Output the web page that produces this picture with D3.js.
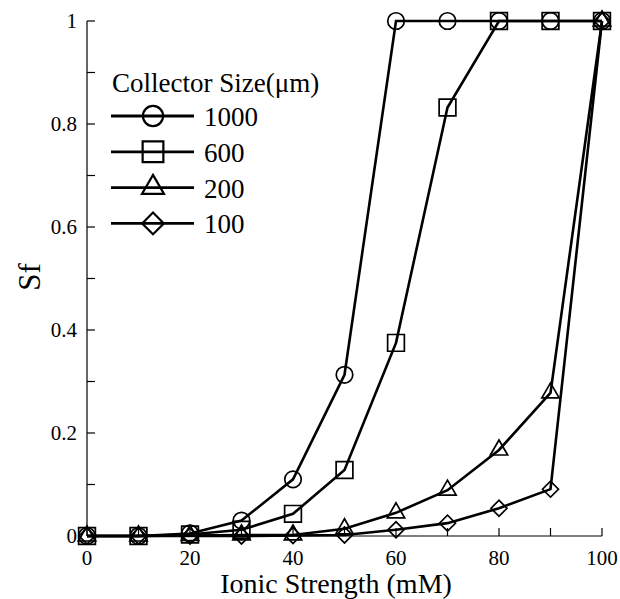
<!DOCTYPE html>
<html>
<head>
<meta charset="utf-8">
<script src="https://cdn.jsdelivr.net/npm/d3@7"></script>
</head>
<body style="margin:0">
<div id="chart"></div>
<script>
// Ionic strength (mM)
const ionic = [0, 10, 20, 30, 40, 50, 60, 70, 80, 90, 100]

// Sf per collector size
const s1000 = [0, 0, 0.005, 0.03, 0.11, 0.313, 1, 1, 1, 1, 1]
const s600 = [0, 0, 0.003, 0.012, 0.043, 0.128, 0.375, 0.832, 1, 1, 1]
const s200 = [0, 0, 0.001, 0.002, 0.002, 0.014, 0.045, 0.089, 0.167, 0.278, 1]
const s100 = [0, 0, 0, 0, 0.001, 0.002, 0.012, 0.025, 0.054, 0.091, 1]

const seriesNames = ["1000", "600", "200", "100"]
const xTicks = [0, 10, 20, 30, 40, 50, 60, 70, 80, 90, 100]
const xLabels = [0, 20, 40, 60, 80, 100]
const yTicks = [0, 0.1, 0.2, 0.3, 0.4, 0.5, 0.6, 0.7, 0.8, 0.9, 1]
const yLabels = [0, 0.2, 0.4, 0.6, 0.8, 1]

const serif = "Liberation Serif"

// diamond = square turned by 45 degrees
const series = [
  { name: seriesNames[0], values: s1000, symbol: d3.symbolCircle, size: 215, lsize: 320, rot: 0 },
  { name: seriesNames[1], values: s600, symbol: d3.symbolSquare, size: 280, lsize: 430, rot: 0 },
  { name: seriesNames[2], values: s200, symbol: d3.symbolTriangle, size: 130, lsize: 210, rot: 0 },
  { name: seriesNames[3], values: s100, symbol: d3.symbolSquare, size: 128, lsize: 235, rot: 45 },
]

const W = 620, H = 599
const x = d3.scaleLinear().domain([0, 100]).range([87, 602])
const y = d3.scaleLinear().domain([0, 1]).range([536, 21])

const svg = d3.select("#chart").append("svg")
  .attr("width", W).attr("height", H)
  .attr("font-family", serif)

// axes
const ax = svg.append("g").attr("stroke", "#000").attr("stroke-width", 1.2)
ax.append("line").attr("x1", x(0)).attr("x2", x(100)).attr("y1", y(0)).attr("y2", y(0))
ax.append("line").attr("x1", x(0)).attr("x2", x(0)).attr("y1", y(0)).attr("y2", y(1))
ax.selectAll(".xt").data(xTicks).enter().append("line")
  .attr("x1", d => x(d)).attr("x2", d => x(d))
  .attr("y1", y(0)).attr("y2", y(0) - 8)
ax.selectAll(".yt").data(yTicks).enter().append("line")
  .attr("x1", x(0)).attr("x2", x(0) + 8)
  .attr("y1", d => y(d)).attr("y2", d => y(d))

svg.selectAll(".xl").data(xLabels).enter().append("text")
  .attr("x", d => x(d)).attr("y", y(0) + 29)
  .attr("text-anchor", "middle").attr("font-size", 21)
  .attr("font-family", serif)
  .text(d => d)
svg.selectAll(".yl").data(yLabels).enter().append("text")
  .attr("x", x(0) - 10).attr("y", d => y(d) + 7)
  .attr("text-anchor", "end").attr("font-size", 21)
  .attr("font-family", serif)
  .text(d => d)

svg.append("text").attr("x", 336).attr("y", 593)
  .attr("text-anchor", "middle").attr("font-size", 28)
  .attr("font-family", serif)
  .text("Ionic Strength (mM)")
svg.append("text")
  .attr("transform", "translate(40,277) rotate(-90)")
  .attr("text-anchor", "middle").attr("font-size", 31)
  .attr("font-family", serif)
  .text("Sf")

// series
const line = d3.line().x((d, i) => x(ionic[i])).y(d => y(d))
series.forEach(s => {
  const g = svg.append("g")
  g.append("path").attr("d", line(s.values))
    .attr("fill", "none").attr("stroke", "#000").attr("stroke-width", 2.6)
  g.selectAll("path.m").data(s.values).enter().append("path")
    .attr("class", "m")
    .attr("transform", (d, i) => `translate(${x(ionic[i])},${y(d)}) rotate(${s.rot})`)
    .attr("d", d3.symbol().type(s.symbol).size(s.size))
    .attr("fill", "none").attr("stroke", "#000").attr("stroke-width", 1.7)
})

// legend
const lg = svg.append("g")
lg.append("text").attr("x", 112).attr("y", 92).attr("font-size", 27)
  .attr("font-family", serif)
  .text("Collector Size(\u03bcm)")
series.forEach((s, i) => {
  const ly = 116 + i * 35.8
  lg.append("line").attr("x1", 111).attr("x2", 194).attr("y1", ly).attr("y2", ly)
    .attr("stroke", "#000").attr("stroke-width", 2.8)
  lg.append("path").attr("transform", `translate(153,${ly}) rotate(${s.rot})`)
    .attr("d", d3.symbol().type(s.symbol).size(s.lsize))
    .attr("fill", "none").attr("stroke", "#000").attr("stroke-width", 2.2)
  lg.append("text").attr("x", 204).attr("y", ly + 10).attr("font-size", 27)
    .attr("font-family", serif)
    .text(s.name)
})
</script>
</body>
</html>
